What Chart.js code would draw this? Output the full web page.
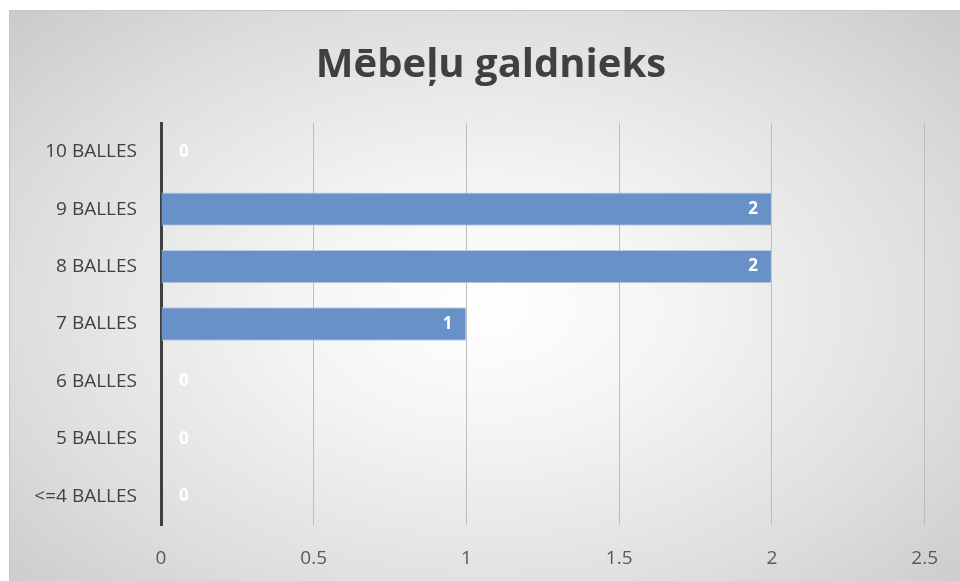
<!DOCTYPE html>
<html>
<head>
<meta charset="utf-8">
<script src="https://cdn.jsdelivr.net/npm/chart.js@4/dist/chart.umd.min.js"></script>
<style>
  html, body { margin: 0; padding: 0; background: #fff; overflow: hidden; }
  .box {
    position: absolute; left: 9px; top: 10px;
    width: 951px; height: 571px; box-sizing: border-box;
    border-top: 1px solid #c6c6c6; border-left: 1px solid #c6c6c6;
    background: radial-gradient(ellipse 70% 75% at 50% 52%, #ffffff 0%, #f4f4f4 30%, #dedede 70%, #cacaca 100%);
  }
</style>
</head>
<body>
<div class="box"><canvas id="chart"></canvas></div>
<script>
// score groups, top to bottom
const labels = ['10 BALLES', '9 BALLES', '8 BALLES', '7 BALLES', '6 BALLES', '5 BALLES', '<=4 BALLES'];
const counts = [0, 2, 2, 1, 0, 0, 0];
const xTicks = [0, 0.5, 1, 1.5, 2, 2.5];
const titleText = 'Mēbeļu galdnieks';

const font = "'Open Sans', 'Noto Sans', sans-serif";

// heading, a bit right of the canvas centre
const heading = {
    id: 'heading',
    afterDraw(chart) {
        const ctx = chart.ctx;
        ctx.save();
        ctx.font = 'bold 40px ' + font;
        ctx.fillStyle = '#404040';
        ctx.textAlign = 'center';
        ctx.textBaseline = 'alphabetic';
        ctx.fillText(titleText, chart.width / 2 + 6, 66);
        ctx.restore();
    }
};

// white value labels at the inner end of each bar
const valueLabels = {
    id: 'valueLabels',
    afterDatasetsDraw(chart) {
        const ctx = chart.ctx;
        const meta = chart.getDatasetMeta(0);
        ctx.save();
        ctx.font = 'bold 17px ' + font;
        ctx.fillStyle = '#ffffff';
        ctx.textBaseline = 'middle';
        meta.data.forEach((bar, i) => {
            const v = counts[i];
            if (v === 0) {
                ctx.textAlign = 'left';
                ctx.fillText(String(v), bar.x + 18, bar.y);
            } else {
                ctx.textAlign = 'right';
                ctx.fillText(String(v), bar.x - 14, bar.y);
            }
        });
        ctx.restore();
    }
};

const chart = new Chart(document.getElementById('chart'), {
    type: 'bar',
    data: {
        labels: labels,
        datasets: [{
            data: counts,
            backgroundColor: 'rgb(104,146,199)',
            borderColor: 'rgb(184,202,230)',
            borderWidth: 1,
            categoryPercentage: 1,
            barPercentage: 0.58
        }]
    },
    options: {
        indexAxis: 'y',
        responsive: true,
        maintainAspectRatio: false,
        animation: false,
        layout: { padding: { top: 112, right: 33, bottom: 0, left: 0 } },
        plugins: {
            legend: { display: false },
            tooltip: { enabled: false },
            title: { display: false }
        },
        scales: {
            x: {
                min: 0,
                max: 2.5,
                afterBuildTicks: scale => { scale.ticks = xTicks.map(v => ({ value: v })); },
                afterFit: scale => { scale.height = 56; },
                grid: { color: '#bdbdbd', lineWidth: 1, drawTicks: false },
                border: { display: false },
                ticks: {
                    color: '#595959',
                    font: { family: font, size: 19 },
                    padding: 22,
                    callback: v => String(v)
                }
            },
            y: {
                afterFit: scale => { scale.width = 151; },
                grid: { display: false },
                border: { color: '#404040', width: 3 },
                ticks: {
                    color: '#404040',
                    font: { family: font, size: 19 },
                    padding: 16
                }
            }
        }
    },
    plugins: [valueLabels, heading]
});
</script>
</body>
</html>
